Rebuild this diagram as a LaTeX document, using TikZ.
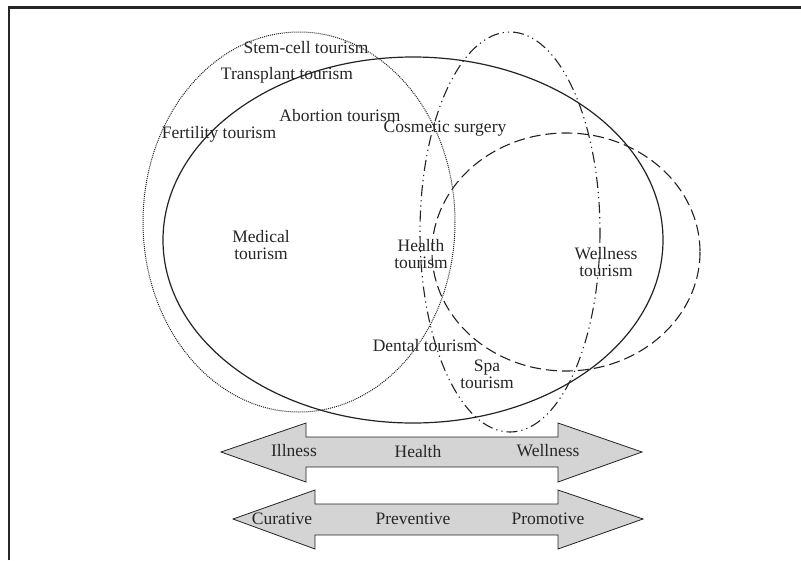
\documentclass[tikz,border=0pt]{standalone}
\usepackage{fontspec}
\setmainfont{Liberation Serif}
\usepackage{tikz}
\usetikzlibrary{positioning, calc}
\definecolor{lineGray}{RGB}{35, 35, 35}
\definecolor{bandFill}{RGB}{212, 212, 212}
\tikzset{
  label/.style={
    inner sep=1pt, align=center,
    font=\fontsize{17.5}{17}\selectfont, text=black!85
  },
  health/.style={draw=lineGray, line width=1.2pt},
  medical/.style={draw=lineGray, line width=1pt, densely dotted},
  spa/.style={draw=lineGray, line width=1.1pt,
    dash pattern=on 11pt off 4pt on 1.2pt off 4pt on 1.2pt off 4pt},
  wellness/.style={draw=lineGray, line width=1.1pt,
    dash pattern=on 11pt off 5pt},
  band/.style={draw=lineGray, fill=bandFill, line width=0.8pt, line join=miter}
}

\begin{document}
\begin{tikzpicture}[x=1pt, y=-1pt]
\useasboundingbox (0,0) rectangle (801,560);

% --- frame ---
\draw[line width=2.4pt, black!85] (9,560) -- (9,7.5) -- (801,7.5);

% --- overlapping ellipses ---
\draw[medical] (299,222) ellipse [x radius=156, y radius=190];
\draw[health] (413,240) ellipse [x radius=250, y radius=183];
\draw[spa] (510,232) ellipse [x radius=90, y radius=200];
\draw[wellness] (566,252) ellipse [x radius=134, y radius=119];

% --- labels inside ---
\node[label] (stem) at (306,48) {Stem-cell tourism};
\node[label] (transplant) at (287,75) {Transplant tourism};
\node[label] (abortion) at (340,116) {Abortion tourism};
\node[label] (fertility) at (219,134) {Fertility tourism};
\node[label] (cosmetic) at (445,129) {Cosmetic surgery};
\node[label] (medical) at (261,245) {Medical\\tourism};
\node[label] (healthT) at (421,254) {Health\\tourism};
\node[label] (wellnessT) at (606,262) {Wellness\\tourism};
\node[label] (dental) at (425,346) {Dental tourism};
\node[label] (spaT) at (487,374) {Spa\\tourism};

% --- Illness / Wellness band ---
\draw[band] (221,452) -- (306,423) -- (306,437) -- (558,437) -- (558,423)
  -- (642,452) -- (558,482) -- (558,467) -- (306,467) -- (306,482) -- cycle;
\node[label] (illness) at (294,451) {Illness};
\node[label] (health) at (418,452) {Health};
\node[label] (wellness) at (548,451) {Wellness};

% --- Curative / Promotive band ---
\draw[band] (233,519) -- (315,490) -- (315,504) -- (558,504) -- (558,490)
  -- (643,519) -- (558,549) -- (558,535) -- (315,535) -- (315,549) -- cycle;
\node[label] (curative) at (282,519) {Curative};
\node[label] (preventive) at (413,519) {Preventive};
\node[label] (promotive) at (548,519) {Promotive};

\end{tikzpicture}
\end{document}
